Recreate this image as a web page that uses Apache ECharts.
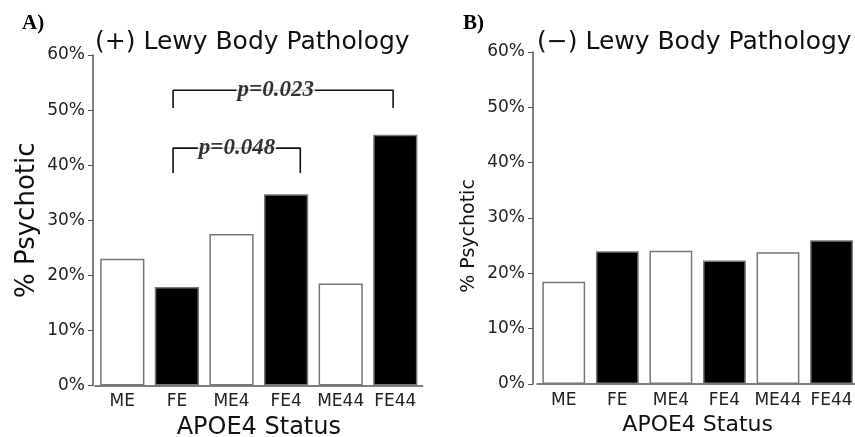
<!DOCTYPE html>
<html>
<head>
<meta charset="utf-8">
<script src="https://cdn.jsdelivr.net/npm/echarts@6/dist/echarts.min.js"></script>
<style>
html,body{margin:0;padding:0;background:#fff;}
#chart{width:855px;height:437px;}
</style>
</head>
<body>
<div id="chart"></div>
<script>
// ---- data ----
const categories = ['ME', 'FE', 'ME4', 'FE4', 'ME44', 'FE44'];
const lewyPositive = [23.0, 17.9, 27.5, 34.7, 18.5, 45.5];
const lewyNegative = [18.5, 24.0, 24.1, 22.3, 23.8, 26.0];
const yMin = 0, yMax = 60, yInterval = 10;
const panelTitles = ['(+) Lewy Body Pathology', '(\u2212) Lewy Body Pathology'];
const panelLetters = ['A)', 'B)'];
const yAxisName = '% Psychotic';
const xAxisName = 'APOE4 Status';
// significance brackets (category-index units on x, percent on y)
const bracketLabels = ['p=0.023', 'p=0.048'];
const bracketFrom = [0.93, 0.93];
const bracketTo = [4.96, 3.26];
const bracketTop = [53.6, 43.1];
const bracketLeg = [50.4, 38.6];
const bracketTextX = [2.81, 2.10];

const FONT = 'DejaVu Sans';
const chart = echarts.init(document.getElementById('chart'), null, {renderer: 'canvas'});

function barData(vals) {
  return vals.map((v, i) => ({
    value: v,
    itemStyle: {color: categories[i].startsWith('F') ? '#000' : '#fff'}
  }));
}

const grids = [
  {left: 95, top: 55, width: 327.6, height: 330.5, containLabel: false, outerBoundsMode: 'none'},
  {left: 537, top: 52, width: 321.3, height: 332, containLabel: false, outerBoundsMode: 'none'}
];

const xAxes = [
  {gridIndex: 0, type: 'category', data: categories, boundaryGap: true,
   name: xAxisName, nameLocation: 'middle', nameGap: 28,
   nameTextStyle: {fontFamily: FONT, fontSize: 24, color: '#111'},
   axisLine: {onZero: false, lineStyle: {color: '#555', width: 1.5}},
   axisTick: {alignWithLabel: true, length: 5, lineStyle: {color: '#555'}},
   axisLabel: {fontFamily: FONT, fontSize: 17, color: '#222', margin: 8, interval: 0}},
  {gridIndex: 1, type: 'category', data: categories, boundaryGap: true,
   name: xAxisName, nameLocation: 'middle', nameGap: 27,
   nameTextStyle: {fontFamily: FONT, fontSize: 22, color: '#111'},
   axisLine: {onZero: false, lineStyle: {color: '#555', width: 1.5}},
   axisTick: {alignWithLabel: true, length: 5, lineStyle: {color: '#555'}},
   axisLabel: {fontFamily: FONT, fontSize: 17, color: '#222', margin: 8, interval: 0}},
  {gridIndex: 0, type: 'value', min: -0.5, max: 5.5, show: false}
];

const yAxes = [
  {gridIndex: 0, type: 'value', min: yMin, max: yMax, interval: yInterval, offset: 2,
   name: yAxisName, nameLocation: 'middle', nameGap: 53, nameRotate: 90,
   nameTextStyle: {fontFamily: FONT, fontSize: 26, color: '#111'},
   axisLine: {show: true, onZero: false, lineStyle: {color: '#555', width: 1.5}},
   axisTick: {show: true, length: 5, lineStyle: {color: '#555'}},
   splitLine: {show: false},
   axisLabel: {fontFamily: FONT, fontSize: 17, color: '#222', margin: 8, formatter: '{value}%'}},
  {gridIndex: 1, type: 'value', min: yMin, max: yMax, interval: yInterval, offset: 4,
   axisLine: {show: true, onZero: false, lineStyle: {color: '#555', width: 1.5}},
   axisTick: {show: true, length: 5, lineStyle: {color: '#555'}},
   splitLine: {show: false},
   axisLabel: {fontFamily: FONT, fontSize: 17, color: '#222', margin: 8, formatter: '{value}%'}}
];

const series = [
  {type: 'bar', xAxisIndex: 0, yAxisIndex: 0, data: barData(lewyPositive), barWidth: '81%',
   itemStyle: {borderColor: '#777', borderWidth: 1.5}, silent: true},
  {type: 'bar', xAxisIndex: 1, yAxisIndex: 1, data: barData(lewyNegative), barWidth: '80%',
   itemStyle: {borderColor: '#777', borderWidth: 1.5}, silent: true}
];

bracketLabels.forEach((lab, k) => {
  series.push({
    type: 'line', xAxisIndex: 2, yAxisIndex: 0, symbol: 'none', z: 5, silent: true,
    lineStyle: {color: '#111', width: 1.6},
    data: [[bracketFrom[k], bracketLeg[k]], [bracketFrom[k], bracketTop[k]],
           [bracketTo[k], bracketTop[k]], [bracketTo[k], bracketLeg[k]]]
  });
  series.push({
    type: 'scatter', xAxisIndex: 2, yAxisIndex: 0, symbolSize: 1, z: 10, silent: true,
    itemStyle: {color: 'rgba(0,0,0,0)'},
    data: [[bracketTextX[k], bracketTop[k]]],
    label: {show: true, position: 'inside', formatter: lab,
            fontFamily: 'Liberation Serif', fontStyle: 'italic', fontWeight: 'bold',
            fontSize: 23, color: '#000', backgroundColor: '#fff', padding: [0, 1]}
  });
});

const titleStyle = {fontFamily: FONT, fontSize: 25, fontWeight: 'normal', color: '#111'};
const letterStyle = {fontFamily: 'Liberation Serif', fontSize: 21, fontWeight: 'bold', color: '#000'};

const option = {
  animation: false,
  backgroundColor: '#fff',
  title: [
    {text: panelTitles[0], left: 95, top: 30, padding: 0, textStyle: titleStyle},
    {text: panelTitles[1], left: 537, top: 30, padding: 0, textStyle: titleStyle},
    {text: panelLetters[0], left: 22, top: 13, padding: 0, textStyle: letterStyle},
    {text: panelLetters[1], left: 463, top: 13, padding: 0, textStyle: letterStyle}
  ],
  graphic: [
    {type: 'text', x: 469, y: 236, rotation: Math.PI / 2, silent: true,
     style: {text: yAxisName, fontFamily: FONT, fontSize: 19, fill: '#111',
             align: 'center', verticalAlign: 'middle'}}
  ],
  grid: grids,
  xAxis: xAxes,
  yAxis: yAxes,
  series: series
};
chart.setOption(option);
</script>
</body>
</html>
